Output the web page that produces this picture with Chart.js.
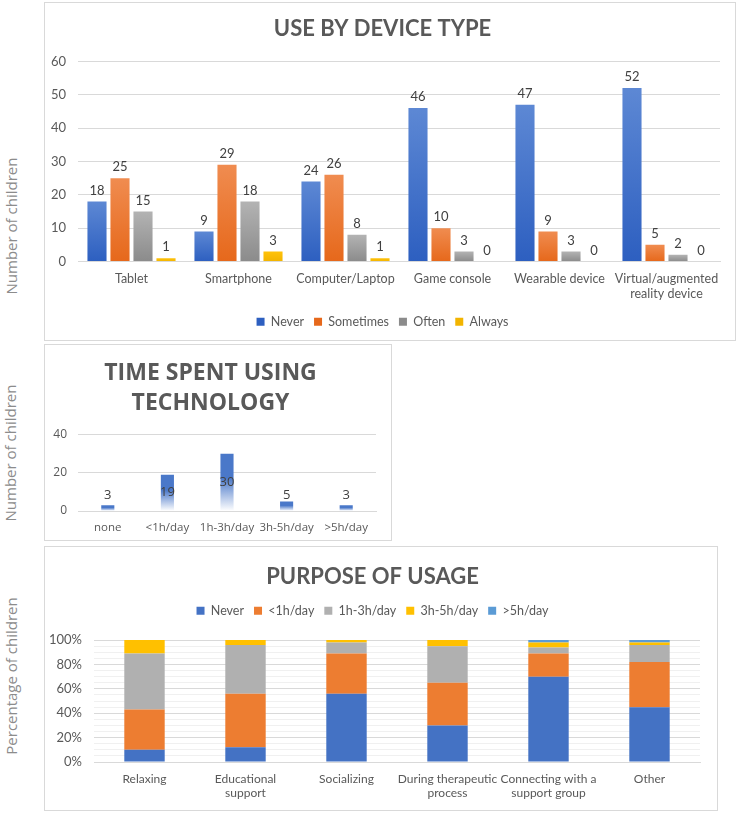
<!DOCTYPE html>
<html>
<head>
<meta charset="utf-8">
<title>Technology use</title>
<script src="https://cdn.jsdelivr.net/npm/chart.js@4.4.1/dist/chart.umd.min.js"></script>
<style>
  body { margin: 0; background: #fff; width: 737px; height: 813px; overflow: hidden; position: relative; }
  .panel { position: absolute; border: 1px solid #d9d9d9; background: #fff; }
  .panel canvas { display: block; }
  .ytitle { position: absolute; font-family: 'Open Sans', sans-serif; font-size: 15px; color: #8c8c8c;
            white-space: nowrap; transform: translate(-50%, -50%) rotate(-90deg); }
</style>
</head>
<body>
<div class="ytitle" style="left:11px;top:226px">Number of children</div>
<div class="ytitle" style="left:10px;top:453px">Number of children</div>
<div class="ytitle" style="left:11px;top:676px">Percentage of children</div>

<div class="panel" style="left:44px;top:2px;width:690px;height:337px"><canvas id="deviceChart"></canvas></div>
<div class="panel" style="left:44px;top:344px;width:346px;height:195px"><canvas id="timeChart"></canvas></div>
<div class="panel" style="left:44px;top:546px;width:672px;height:263px"><canvas id="purposeChart"></canvas></div>

<script>
// --- data ---
const devices = ['Tablet', 'Smartphone', 'Computer/Laptop', 'Game console', 'Wearable device',
                 ['Virtual/augmented', 'reality device']];
const neverCounts     = [18, 9, 24, 46, 47, 52];
const sometimesCounts = [25, 29, 26, 10, 9, 5];
const oftenCounts     = [15, 18, 8, 3, 3, 2];
const alwaysCounts    = [1, 3, 1, 0, 0, 0];
const deviceTicks = [0, 10, 20, 30, 40, 50, 60];

const timeLabels = ['none', '<1h/day', '1h-3h/day', '3h-5h/day', '>5h/day'];
const timeCounts = [3, 19, 30, 5, 3];
const timeTicks = [0, 20, 40];

const purposes = ['Relaxing', ['Educational', 'support'], 'Socializing',
                  ['During therapeutic', 'process'], ['Connecting with a', 'support group'], 'Other'];
const pctNever   = [10, 12, 56, 30, 70, 45];
const pctUnder1h = [33, 44, 33, 35, 19, 37];
const pct1to3h   = [46, 40, 9, 30, 5, 14];
const pct3to5h   = [11, 4, 2, 5, 4, 2];
const pctOver5h  = [0, 0, 0, 0, 2, 2];
const pctTicks = [0, 20, 40, 60, 80, 100];

// --- styles ---
const grey = '#595959';
const cal = "Lato, 'Liberation Sans', sans-serif";
const sans = "'Open Sans', sans-serif";

// vertical gradient over each bar, from its top to the zero line
function barGradient(c, stops) {
  const chart = c.chart;
  if (!chart.chartArea || c.type !== 'data') return stops[0][1];
  const y = chart.scales.y;
  const top = y.getPixelForValue(c.raw);
  const base = y.getPixelForValue(0);
  if (base - top < 1) return stops[0][1];
  const g = chart.ctx.createLinearGradient(0, top, 0, base);
  stops.forEach(s => g.addColorStop(s[0], s[1]));
  return g;
}

// value labels drawn on/above bars
const valueLabels = {
  id: 'valueLabels',
  afterDatasetsDraw(chart, args, opts) {
    const ctx = chart.ctx;
    ctx.save();
    ctx.font = opts.font;
    ctx.fillStyle = opts.color;
    ctx.textAlign = 'center';
    ctx.textBaseline = 'middle';
    chart.data.datasets.forEach((ds, di) => {
      chart.getDatasetMeta(di).data.forEach((bar, i) => {
        let y;
        if (opts.position === 'center') {
          y = Math.min((bar.y + bar.base) / 2, bar.base - opts.minLift);
        } else {
          y = bar.y - opts.offset;
        }
        ctx.fillText(String(ds.data[i]), bar.x, y);
      });
    });
    ctx.restore();
  }
};

// --- chart 1: use by device type ---
new Chart(document.getElementById('deviceChart'), {
  type: 'bar',
  data: {
    labels: devices,
    datasets: [
      { label: 'Never', data: neverCounts, backgroundColor: c => barGradient(c, [[0, '#5d88d4'], [1, '#2d5fc0']]) },
      { label: 'Sometimes', data: sometimesCounts, backgroundColor: c => barGradient(c, [[0, '#f08c50'], [1, '#e6681b']]) },
      { label: 'Often', data: oftenCounts, backgroundColor: c => barGradient(c, [[0, '#b3b3b3'], [1, '#8b8b8b']]) },
      { label: 'Always', data: alwaysCounts, backgroundColor: c => barGradient(c, [[0, '#ffc20a'], [1, '#f2b400']]) }
    ]
  },
  options: {
    responsive: true,
    maintainAspectRatio: false,
    animation: false,
    layout: { padding: { left: 0, right: 15, top: 0, bottom: 2 } },
    datasets: { bar: { categoryPercentage: 0.86, barPercentage: 0.83 } },
    scales: {
      x: {
        grid: { display: false, drawTicks: false },
        border: { color: '#d9d9d9' },
        ticks: { color: grey, font: { family: cal, size: 12.5 }, padding: 10, maxRotation: 0, autoSkip: false },
        afterFit: s => { s.height = 44; }
      },
      y: {
        min: 0, max: 60,
        afterBuildTicks: s => { s.ticks = deviceTicks.map(v => ({ value: v })); },
        ticks: { color: grey, font: { family: cal, size: 13 }, padding: 12, autoSkip: false },
        grid: { color: '#d9d9d9', drawTicks: false },
        border: { display: false },
        afterFit: s => { s.width = 33; }
      }
    },
    plugins: {
      title: { display: true, text: 'USE BY DEVICE TYPE', color: grey,
               font: { family: cal, size: 22, weight: 'bold' }, padding: { top: 13, bottom: 19 } },
      legend: { position: 'bottom',
                labels: { boxWidth: 8, boxHeight: 8, padding: 10, color: grey, font: { family: cal, size: 12.5 } } },
      tooltip: { enabled: false },
      valueLabels: { position: 'end', offset: 11, font: "13px " + cal, color: '#404040' }
    }
  },
  plugins: [valueLabels]
});

// --- chart 2: time spent using technology ---
new Chart(document.getElementById('timeChart'), {
  type: 'bar',
  data: {
    labels: timeLabels,
    datasets: [
      { label: 'Number of children', data: timeCounts,
        backgroundColor: c => barGradient(c, [[0, '#4a78c9'], [0.42, '#4a78c9'], [1, '#ffffff']]) }
    ]
  },
  options: {
    responsive: true,
    maintainAspectRatio: false,
    animation: false,
    layout: { padding: { left: 0, right: 15, top: 0, bottom: 0 } },
    datasets: { bar: { categoryPercentage: 1, barPercentage: 0.22 } },
    scales: {
      x: {
        grid: { display: false, drawTicks: false },
        border: { color: '#d9d9d9' },
        ticks: { color: grey, font: { family: sans, size: 11.5 }, padding: 10, maxRotation: 0, autoSkip: false },
        afterFit: s => { s.height = 29; }
      },
      y: {
        min: 0, max: 40,
        afterBuildTicks: s => { s.ticks = timeTicks.map(v => ({ value: v })); },
        ticks: { color: grey, font: { family: sans, size: 12 }, padding: 11, autoSkip: false },
        grid: { color: '#d9d9d9', drawTicks: false },
        border: { display: false },
        afterFit: s => { s.width = 33; }
      }
    },
    plugins: {
      title: { display: true, text: ['TIME SPENT USING', 'TECHNOLOGY'], color: grey,
               font: { family: sans, size: 23, weight: 'bold', lineHeight: 1.3 }, padding: { top: 14, bottom: 16 } },
      legend: { display: false },
      tooltip: { enabled: false },
      valueLabels: { position: 'center', minLift: 15, font: "13px " + sans, color: '#404040' }
    }
  },
  plugins: [valueLabels]
});

// --- chart 3: purpose of usage ---
new Chart(document.getElementById('purposeChart'), {
  type: 'bar',
  data: {
    labels: purposes,
    datasets: [
      { label: 'Never', data: pctNever, backgroundColor: '#4472c4' },
      { label: '<1h/day', data: pctUnder1h, backgroundColor: '#ed7d31' },
      { label: '1h-3h/day', data: pct1to3h, backgroundColor: '#b0b0b0' },
      { label: '3h-5h/day', data: pct3to5h, backgroundColor: '#ffc000' },
      { label: '>5h/day', data: pctOver5h, backgroundColor: '#5b9bd5' }
    ]
  },
  options: {
    responsive: true,
    maintainAspectRatio: false,
    animation: false,
    layout: { padding: { left: 0, right: 17, top: 0, bottom: 0 } },
    datasets: { bar: { categoryPercentage: 1, barPercentage: 0.4 } },
    scales: {
      x: {
        stacked: true,
        grid: { display: false, drawTicks: false },
        border: { color: '#d9d9d9' },
        ticks: { color: grey, font: { family: cal, size: 12 }, padding: 10, maxRotation: 0, autoSkip: false },
        afterFit: s => { s.height = 48; }
      },
      y: {
        stacked: true,
        min: 0, max: 100,
        ticks: { stepSize: 5, color: grey, font: { family: cal, size: 13 }, padding: 12, autoSkip: false,
                 callback: v => pctTicks.includes(v) ? v + '%' : '' },
        grid: { drawTicks: false, color: c => pctTicks.includes(c.tick.value) ? '#d9d9d9' : '#f0f0f0' },
        border: { display: false },
        afterFit: s => { s.width = 49; }
      }
    },
    plugins: {
      title: { display: true, text: 'PURPOSE OF USAGE', color: grey,
               font: { family: cal, size: 22, weight: 'bold' }, padding: { top: 17, bottom: 4 } },
      legend: { position: 'top',
                labels: { boxWidth: 8, boxHeight: 8, padding: 10, color: grey, font: { family: cal, size: 12.5 } } },
      // empty spacer between legend and plot
      subtitle: { display: true, text: '', weight: 500, font: { size: 1 }, padding: { top: 0, bottom: 12 } },
      tooltip: { enabled: false }
    }
  }
});
</script>
</body>
</html>
